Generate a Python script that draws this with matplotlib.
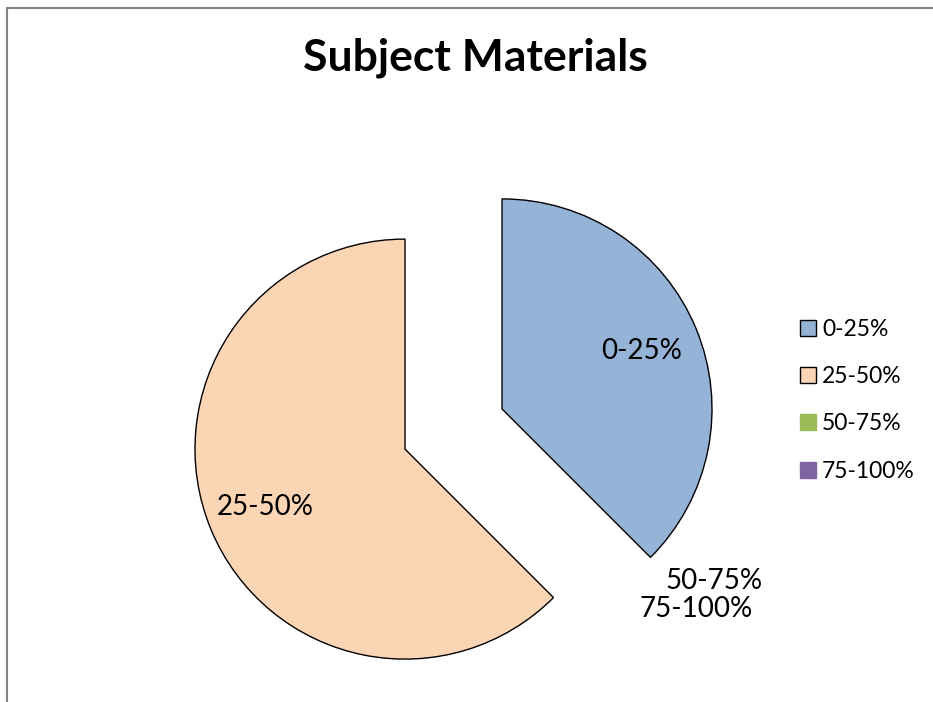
import matplotlib
matplotlib.use("Agg")
import matplotlib.pyplot as plt
from matplotlib.lines import Line2D

plt.rcParams["font.family"] = ["Lato", "DejaVu Sans"]

# 数据
categories = ["0-25%", "25-50%", "50-75%", "75-100%"]
counts = [3, 5, 0, 0]
colors = ["#95B3D7", "#FCD5B5", "#9BBB59", "#8064A2"]
title = "Subject Materials"

W, H = 933, 702
fig = plt.figure(figsize=(W / 100, H / 100), dpi=100)
ax = fig.add_axes([0, 0, 1, 1])

# 饼图用像素坐标绘制，explode 需按半径换算
cx, cy, r = 453.5, H - 429, 210
wedges, texts = ax.pie(
    counts,
    labels=categories,
    colors=colors,
    explode=[0.25 * r] * len(counts),
    startangle=90,
    counterclock=False,
    center=(cx, cy),
    radius=r,
    labeldistance=0.72,
    wedgeprops=dict(edgecolor="black", linewidth=1.0),
    textprops=dict(fontsize=20, ha="center", va="center"),
    frame=True,
)
ax.set_xlim(0, W)
ax.set_ylim(0, H)
ax.set_aspect("equal")
ax.axis("off")

# 零值扇区不画边线，标签放在缝隙外侧
for w, cnt in zip(wedges, counts):
    if cnt == 0:
        w.set_visible(False)
texts[2].set_position((714, H - 581))
texts[3].set_position((696, H - 609))

ax.text(W / 2 + 9, H - 58, title, fontsize=32, fontweight="bold",
        ha="center", va="center")

handles = []
for name, c, cnt in zip(categories, colors, counts):
    handles.append(Line2D([], [], linestyle="none", marker="s", markersize=11,
                          markerfacecolor=c,
                          markeredgecolor="black" if cnt > 0 else c,
                          markeredgewidth=1.0, label=name))
ax.legend(handles=handles, loc="center left", bbox_to_anchor=(0.848, 0.43),
          frameon=False, fontsize=16.5, labelspacing=1.15, handlelength=0.7,
          handletextpad=0.25, borderaxespad=0)

# 图表外框（上边与左边）
fig.add_artist(Line2D([7.5 / W, 1], [1 - 7.5 / H, 1 - 7.5 / H],
                      color="#868686", linewidth=1.5))
fig.add_artist(Line2D([7.5 / W, 7.5 / W], [0, 1 - 7.5 / H],
                      color="#868686", linewidth=1.5))

fig.savefig("out.png", dpi=100)
